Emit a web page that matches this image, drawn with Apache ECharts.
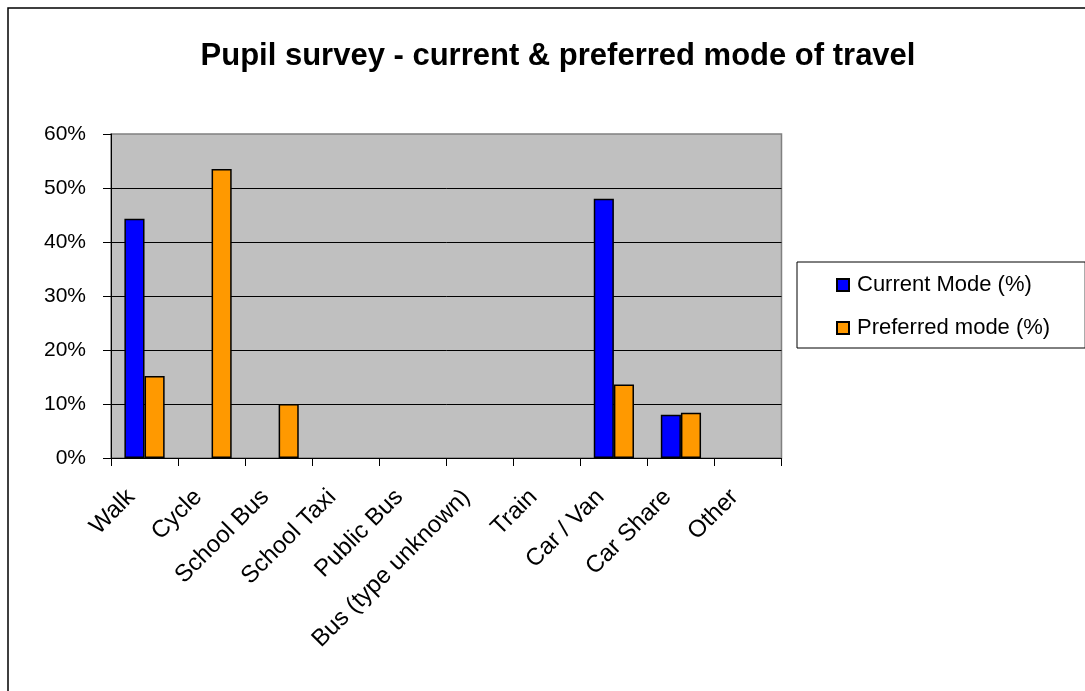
<!DOCTYPE html>
<html>
<head>
<meta charset="utf-8">
<script src="https://cdn.jsdelivr.net/npm/echarts@6/dist/echarts.min.js"></script>
<style>html,body{margin:0;padding:0;background:#fff;}#c{width:1085px;height:691px;}</style>
</head>
<body>
<div id="c"></div>
<script>
const titleText = 'Pupil survey - current & preferred mode of travel';
const categories = ['Walk','Cycle','School Bus','School Taxi','Public Bus','Bus (type unknown)','Train','Car / Van','Car Share','Other'];
const currentMode = [44.3, 0, 0, 0, 0, 0, 0, 48.0, 8.0, 0];
const preferredMode = [15.2, 53.5, 10.0, 0, 0, 0, 0, 13.6, 8.4, 0];
const seriesNames = ['Current Mode (%)', 'Preferred mode (%)'];
const yMin = 0, yMax = 60, yStep = 10;

const font = 'Liberation Sans, Arial, sans-serif';
const chart = echarts.init(document.getElementById('c'), null, {renderer:'canvas'});
function toData(arr){ return arr.map(v => v === 0 ? null : v); }
chart.setOption({
  animation: false,
  backgroundColor: '#fff',
  graphic: [{
    type: 'rect', z: 100, silent: true,
    shape: {x: 8, y: 8, width: 1200, height: 800},
    style: {fill: 'none', stroke: '#000', lineWidth: 1.5}
  }],
  title: {
    text: titleText, left: 553, top: 36, textAlign: 'center',
    textStyle: {fontFamily: font, fontSize: 31, fontWeight: 'bold', color: '#000'}
  },
  legend: {
    orient: 'vertical', left: 797, top: 262,
    padding: [12, 35, 9, 39], itemGap: 21,
    itemWidth: 12, itemHeight: 12,
    borderColor: '#000', borderWidth: 1, backgroundColor: '#fff',
    textStyle: {fontFamily: font, fontSize: 22, color: '#000', padding: [0, 0, 0, 3]},
    data: seriesNames.map(n => ({name: n, icon: 'rect'}))
  },
  grid: {left: 111, right: 303.5, top: 134, bottom: 233, show: true, backgroundColor: '#C0C0C0', borderColor: '#808080', borderWidth: 1.5},
  xAxis: {
    type: 'category', data: categories,
    axisLine: {lineStyle: {color: '#000', width: 1}},
    axisTick: {show: true, length: 8, lineStyle: {color: '#000'}},
    axisLabel: {rotate: 45, fontFamily: font, fontSize: 24, color: '#000', margin: 22, interval: 0, padding: [0, 19, 0, 0]}
  },
  yAxis: {
    type: 'value', min: yMin, max: yMax, interval: yStep,
    axisLine: {show: true, lineStyle: {color: '#000', width: 1}},
    axisTick: {show: true, length: 8, lineStyle: {color: '#000'}},
    splitLine: {showMaxLine: false, lineStyle: {color: '#000', width: 1}},
    axisLabel: {formatter: '{value}%', fontFamily: font, fontSize: 21, color: '#000', margin: 25}
  },
  series: [
    {name: seriesNames[0], type: 'bar', data: toData(currentMode), barGap: '0%', barCategoryGap: '40%',
     itemStyle: {color: '#0000FF', borderColor: '#000', borderWidth: 1.5}},
    {name: seriesNames[1], type: 'bar', data: toData(preferredMode), barGap: '0%', barCategoryGap: '40%',
     itemStyle: {color: '#FF9900', borderColor: '#000', borderWidth: 1.5}}
  ]
});
</script>
</body>
</html>
